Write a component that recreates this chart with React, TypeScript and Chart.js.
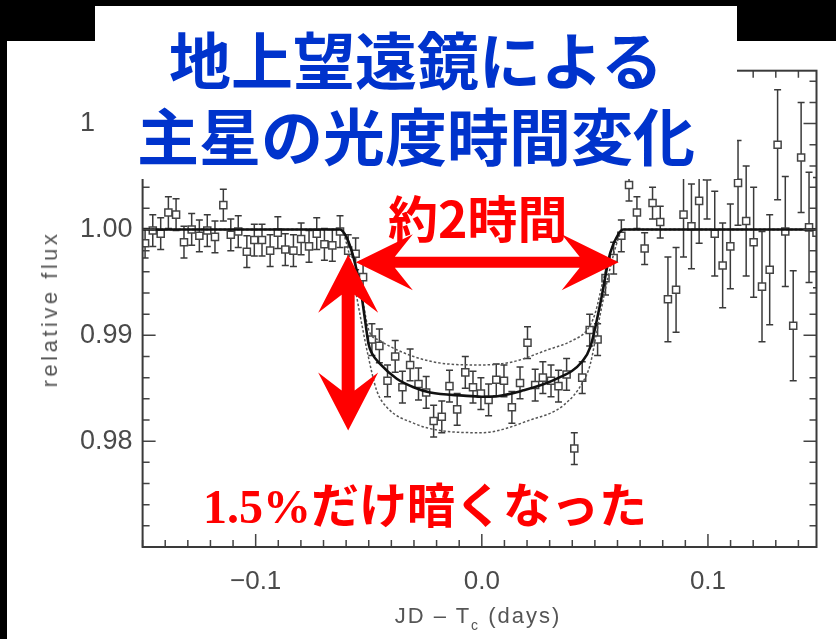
import React, { useEffect, useRef } from 'react';
import { Chart, registerables } from 'chart.js';

Chart.register(...registerables);

// ---- Observed light curve (JD - Tc in days, relative flux, 1-sigma error) ----
const obsTime = [
  -0.1489, -0.1455, -0.1420, -0.1386, -0.1352, -0.1317, -0.1283, -0.1249, -0.1214, -0.1180,
  -0.1143, -0.1110, -0.1077, -0.1039, -0.1006, -0.0972, -0.0936, -0.0902, -0.0869, -0.0833,
  -0.0799, -0.0764, -0.0730, -0.0696, -0.0661, -0.0627, -0.0591, -0.0558, -0.0525, -0.0486,
  -0.0453, -0.0417, -0.0383, -0.0351, -0.0317, -0.0280, -0.0246, -0.0213, -0.0177, -0.0143,
  -0.0109, -0.0073, -0.0039, -0.0004, 0.0030, 0.0064, 0.0098, 0.0133, 0.0169, 0.0202,
  0.0236, 0.0270, 0.0306, 0.0339, 0.0375, 0.0409, 0.0444, 0.0477, 0.0512, 0.0547,
  0.0583, 0.0617, 0.0651, 0.0686, 0.0720, 0.0755, 0.0789, 0.0823, 0.0859, 0.0892,
  0.0927, 0.0961, 0.0996, 0.1030, 0.1065, 0.1099, 0.1133, 0.1169, 0.1202, 0.1239,
  0.1273, 0.1308, 0.1342, 0.1377, 0.1412, 0.1447, 0.1480,
];
const obsFlux = [
  0.9987, 0.9999, 0.9996, 1.0016, 1.0014, 0.9988, 1.0000, 0.9994, 0.9999, 0.9993,
  1.0023, 0.9995, 0.9998, 0.9979, 0.9990, 0.9990, 0.9980, 0.9997, 0.9981, 0.9980,
  0.9991, 0.9984, 0.9996, 0.9986, 0.9985, 0.9998, 0.9980, 0.9977, 0.9955, 0.9896,
  0.9890, 0.9857, 0.9880, 0.9851, 0.9872, 0.9854, 0.9846, 0.9819, 0.9823, 0.9852,
  0.9830, 0.9865, 0.9851, 0.9845, 0.9839, 0.9858, 0.9857, 0.9832, 0.9855, 0.9893,
  0.9853, 0.9860, 0.9857, 0.9852, 0.9863, 0.9793, 0.9860, 0.9905, 0.9896, 0.9954,
  0.9973, 0.9994, 1.0042, 1.0016, 0.9982, 1.0025, 1.0007, 0.9934, 0.9943, 1.0014,
  1.0003, 1.0027, 1.0050, 0.9996, 0.9966, 0.9984, 1.0044, 1.0008, 0.9988, 0.9946,
  0.9962, 1.0080, 0.9998, 0.9909, 1.0068, 1.0002, 0.9997,
];
const obsErr = [
  0.0014, 0.0015, 0.0015, 0.0015, 0.0015, 0.0015, 0.0015, 0.0015, 0.0015, 0.0015,
  0.0015, 0.0015, 0.0015, 0.0015, 0.0015, 0.0015, 0.0015, 0.0015, 0.0015, 0.0015,
  0.0015, 0.0015, 0.0015, 0.0015, 0.0015, 0.0015, 0.0015, 0.0015, 0.0015, 0.0015,
  0.0016, 0.0015, 0.0015, 0.0015, 0.0015, 0.0015, 0.0015, 0.0015, 0.0015, 0.0015,
  0.0015, 0.0015, 0.0015, 0.0015, 0.0015, 0.0015, 0.0015, 0.0015, 0.0015, 0.0015,
  0.0015, 0.0015, 0.0015, 0.0015, 0.0015, 0.0015, 0.0015, 0.0015, 0.0015, 0.0016,
  0.0015, 0.0015, 0.0015, 0.0015, 0.0015, 0.0015, 0.0015, 0.0040, 0.0040, 0.0040,
  0.0040, 0.0040, 0.0040, 0.0040, 0.0040, 0.0040, 0.0040, 0.0052, 0.0052, 0.0052,
  0.0052, 0.0052, 0.0052, 0.0052, 0.0052, 0.0052, 0.0052,
];

// ---- Best-fit transit model (solid) ----
const modelTime = [
  -0.150, -0.0627, -0.0597, -0.0568, -0.0538, -0.0516, -0.0501, -0.0486, -0.0450, -0.0376,
  -0.0302, -0.0228, -0.0081, 0.0000, 0.0037, 0.0185, 0.0332, 0.0443, 0.0480, 0.0524,
  0.0568, 0.0605, 0.0626, 0.148,
];
const modelFlux = [
  1.0000, 1.0000, 0.9992, 0.9974, 0.9946, 0.9914, 0.9892, 0.9883, 0.9873, 0.9859,
  0.9851, 0.9846, 0.9843, 0.9842, 0.9842, 0.9848, 0.9859, 0.9875, 0.9889, 0.9930,
  0.9978, 0.9996, 1.0000, 1.0000,
];

// ---- Alternative models (dotted) ----
const upperTime = [
  -0.150, -0.0627, -0.0568, -0.0530, -0.0500, -0.0450, -0.0302, -0.0153, 0.0000, 0.0138,
  0.0287, 0.0400, 0.0465, 0.0500, 0.0540, 0.0580, 0.0626, 0.148,
];
const upperFlux = [
  1.0000, 1.0000, 0.9975, 0.9937, 0.9905, 0.9895, 0.9880, 0.9873, 0.9872, 0.9875,
  0.9886, 0.9895, 0.9905, 0.9920, 0.9955, 0.9985, 1.0000, 1.0000,
];
const lowerTime = [
  -0.150, -0.0627, -0.0590, -0.0553, -0.0505, -0.0465, -0.0420, -0.0302, -0.0184, 0.0000,
  0.0214, 0.0362, 0.0450, 0.0480, 0.0510, 0.0539, 0.0576, 0.0610, 0.0626, 0.148,
];
const lowerFlux = [
  1.0000, 1.0000, 0.9980, 0.9936, 0.9883, 0.9848, 0.9832, 0.9817, 0.9810, 0.9808,
  0.9820, 0.9834, 0.9857, 0.9873, 0.9905, 0.9936, 0.9971, 0.9995, 1.0000, 1.0000,
];

// ---- Axes ----
const xTickValues = [-0.1, 0.0, 0.1];
const xTickLabels = ['\u22120.1', '0.0', '0.1'];
const yTickValues = [0.98, 0.99, 1.0, 1.01];
const yTickLabels = ['0.98', '0.99', '1.00', '1.01'];
const X_MIN = -0.15;
const X_MAX = 0.148;
const Y_MIN = 0.970;
const Y_MAX = 1.015;
const X_MINOR_STEP = 0.01;
const Y_MINOR_STEP = 0.002;

// ---- Annotation arrows (data units) ----
const durationArrow = { x1: -0.0557, x2: 0.0605, y: 0.9969 };
const depthArrow = { x: -0.0591, y1: 0.9976, y2: 0.9810 };

const TICK_FONT = "'Liberation Sans', Arial, sans-serif";

function drawDoubleArrow(
  ctx: CanvasRenderingContext2D,
  x1: number, y1: number, x2: number, y2: number,
  shaft: number, headLen: number, headHalf: number, notch: number,
) {
  const dx = x2 - x1;
  const dy = y2 - y1;
  const L = Math.hypot(dx, dy);
  const ux = dx / L, uy = dy / L, nx = -uy, ny = ux;
  const P = (a: number, b: number) => [x1 + ux * a + nx * b, y1 + uy * a + ny * b];
  const pts = [
    P(0, 0), P(headLen, headHalf), P(notch, shaft / 2), P(L - notch, shaft / 2),
    P(L - headLen, headHalf), P(L, 0), P(L - headLen, -headHalf), P(L - notch, -shaft / 2),
    P(notch, -shaft / 2), P(headLen, -headHalf),
  ];
  ctx.beginPath();
  pts.forEach(([x, y], i) => (i ? ctx.lineTo(x, y) : ctx.moveTo(x, y)));
  ctx.closePath();
  ctx.fill();
}

const decorPlugin = {
  id: 'decor',
  beforeDatasetsDraw(chart: any) {
    const { ctx, chartArea: a, scales } = chart;
    const xs = scales.x, ys = scales.y;
    ctx.save();
    ctx.beginPath();
    ctx.rect(a.left, a.top, a.right - a.left, a.bottom - a.top);
    ctx.clip();
    ctx.strokeStyle = '#3a3a3a';
    ctx.lineWidth = 1.5;
    for (let i = 0; i < obsTime.length; i++) {
      const px = xs.getPixelForValue(obsTime[i]);
      const top = ys.getPixelForValue(obsFlux[i] + obsErr[i]);
      const bot = ys.getPixelForValue(obsFlux[i] - obsErr[i]);
      ctx.beginPath();
      ctx.moveTo(px, top);
      ctx.lineTo(px, bot);
      ctx.moveTo(px - 3.5, top);
      ctx.lineTo(px + 3.5, top);
      ctx.moveTo(px - 3.5, bot);
      ctx.lineTo(px + 3.5, bot);
      ctx.stroke();
    }
    ctx.restore();
  },
  afterDatasetsDraw(chart: any) {
    const { ctx, chartArea: a, scales } = chart;
    const xs = scales.x, ys = scales.y;
    ctx.save();
    ctx.strokeStyle = '#444';
    ctx.lineWidth = 1.5;
    // x ticks (bottom & top, inward)
    for (let k = Math.ceil(X_MIN / X_MINOR_STEP); k * X_MINOR_STEP <= X_MAX + 1e-9; k++) {
      const v = k * X_MINOR_STEP;
      const major = xTickValues.some((t) => Math.abs(t - v) < 1e-9);
      const len = major ? 13 : 7;
      const px = xs.getPixelForValue(v);
      ctx.beginPath();
      ctx.moveTo(px, a.bottom);
      ctx.lineTo(px, a.bottom - len);
      ctx.moveTo(px, a.top);
      ctx.lineTo(px, a.top + len);
      ctx.stroke();
    }
    // y ticks (left & right, inward)
    for (let k = Math.ceil(Y_MIN / Y_MINOR_STEP - 1e-6); k * Y_MINOR_STEP <= Y_MAX + 1e-9; k++) {
      const v = k * Y_MINOR_STEP;
      const major = yTickValues.some((t) => Math.abs(t - v) < 1e-9);
      const len = major ? 13 : 7;
      const py = ys.getPixelForValue(v);
      ctx.beginPath();
      ctx.moveTo(a.left, py);
      ctx.lineTo(a.left + len, py);
      ctx.moveTo(a.right, py);
      ctx.lineTo(a.right - len, py);
      ctx.stroke();
    }
    ctx.lineWidth = 2;
    ctx.strokeStyle = '#3a3a3a';
    ctx.strokeRect(a.left, a.top, a.right - a.left, a.bottom - a.top);
    ctx.restore();
  },
  afterDraw(chart: any) {
    const { ctx, scales } = chart;
    const xs = scales.x, ys = scales.y;
    ctx.save();
    ctx.fillStyle = '#ff0000';
    const hy = ys.getPixelForValue(durationArrow.y);
    drawDoubleArrow(ctx, xs.getPixelForValue(durationArrow.x1), hy,
      xs.getPixelForValue(durationArrow.x2), hy, 11, 57, 28, 39);
    const vx = xs.getPixelForValue(depthArrow.x);
    drawDoubleArrow(ctx, vx, ys.getPixelForValue(depthArrow.y1),
      vx, ys.getPixelForValue(depthArrow.y2), 13, 58, 30, 40);
    ctx.restore();
  },
};

export default function App() {
  const canvasRef = useRef<HTMLCanvasElement | null>(null);

  useEffect(() => {
    const canvas = canvasRef.current;
    if (!canvas) return;
    const toPts = (xs: number[], ys: number[]) => xs.map((x, i) => ({ x, y: ys[i] }));
    const chart = new Chart(canvas, {
      type: 'line',
      data: {
        datasets: [
          {
            label: 'model',
            data: toPts(modelTime, modelFlux),
            borderColor: '#111',
            borderWidth: 2.6,
            pointRadius: 0,
            cubicInterpolationMode: 'monotone',
            order: 0,
          },
          {
            label: 'upper',
            data: toPts(upperTime, upperFlux),
            borderColor: '#555',
            borderWidth: 1.5,
            borderDash: [2.5, 2],
            pointRadius: 0,
            cubicInterpolationMode: 'monotone',
            order: 1,
          },
          {
            label: 'lower',
            data: toPts(lowerTime, lowerFlux),
            borderColor: '#555',
            borderWidth: 1.5,
            borderDash: [2.5, 2],
            pointRadius: 0,
            cubicInterpolationMode: 'monotone',
            order: 2,
          },
          {
            label: 'observed',
            data: toPts(obsTime, obsFlux),
            showLine: false,
            pointStyle: 'rect',
            pointRadius: 5,
            borderColor: '#444',
            backgroundColor: '#ffffff',
            borderWidth: 1.5,
            order: 3,
          },
        ],
      } as any,
      options: {
        animation: false,
        responsive: false,
        maintainAspectRatio: false,
        events: [],
        layout: { padding: { left: 0, right: 19.5, top: 70.7, bottom: 0 } },
        plugins: { legend: { display: false }, tooltip: { enabled: false } },
        scales: {
          x: {
            type: 'linear',
            min: X_MIN,
            max: X_MAX,
            grid: { display: false, drawTicks: false },
            border: { display: false },
            afterBuildTicks: (s: any) => { s.ticks = xTickValues.map((v) => ({ value: v })); },
            afterFit: (s: any) => { s.height = 92; },
            ticks: {
              padding: 19,
              color: '#4a4a4a',
              font: { family: TICK_FONT, size: 26 },
              maxRotation: 0,
              autoSkip: false,
              callback: (_v: any, i: number) => xTickLabels[i],
            },
          },
          y: {
            type: 'linear',
            min: Y_MIN,
            max: Y_MAX,
            grid: { display: false, drawTicks: false },
            border: { display: false },
            afterBuildTicks: (s: any) => { s.ticks = yTickValues.map((v) => ({ value: v })); },
            afterFit: (s: any) => { s.width = 142.6; },
            ticks: {
              padding: 10,
              color: '#4a4a4a',
              font: { family: TICK_FONT, size: 27 },
              autoSkip: false,
              callback: (_v: any, i: number) => yTickLabels[i],
            },
          },
        },
      } as any,
      plugins: [decorPlugin],
    });
    return () => chart.destroy();
  }, []);

  const abs: React.CSSProperties = { position: 'absolute', whiteSpace: 'nowrap', margin: 0 };
  const jp = "'Noto Sans CJK JP', 'Noto Sans CJK SC', sans-serif";

  return (
    <div style={{ position: 'absolute', left: 0, top: 0, width: 836, height: 639, background: '#000', overflow: 'hidden' }}>
      <div style={{ ...abs, left: 7, top: 41, width: 829, height: 598, background: '#fff' }} />
      <canvas ref={canvasRef} width={836} height={639} style={{ position: 'absolute', left: 0, top: 0, width: 836, height: 639 }} />

      {/* axis titles */}
      <div style={{ ...abs, left: 50, top: 309, transform: 'translate(-50%, -50%) rotate(-90deg)', fontFamily: TICK_FONT, fontSize: 22, letterSpacing: '3.5px', color: '#555' }}>
        relative flux
      </div>
      <div style={{ ...abs, left: 478, top: 603, transform: 'translateX(-50%)', fontFamily: TICK_FONT, fontSize: 22, letterSpacing: '2px', color: '#555' }}>
        JD &ndash; T<sub style={{ fontSize: 14, verticalAlign: -7 }}>c</sub> (days)
      </div>

      {/* title box */}
      <div style={{ ...abs, left: 95, top: 6, width: 642, height: 173, background: '#fff' }}>
        <div style={{ ...abs, left: 0, width: 642, top: 21, textAlign: 'center', fontFamily: jp, fontWeight: 700, fontSize: 62, lineHeight: '62px', color: '#0033cc' }}>
          地上望遠鏡による
        </div>
        <div style={{ ...abs, left: 0, width: 642, top: 97, textAlign: 'center', fontFamily: jp, fontWeight: 700, fontSize: 62, lineHeight: '62px', color: '#0033cc' }}>
          主星の光度時間変化
        </div>
      </div>

      {/* red annotations */}
      <div style={{ ...abs, left: 388, top: 191, fontFamily: jp, fontWeight: 700, fontSize: 50, lineHeight: '50px', color: '#ff0000' }}>
        約2時間
      </div>
      <div style={{ ...abs, left: 203, top: 478, fontWeight: 700, fontSize: 48, lineHeight: '48px', color: '#ff0000' }}>
        <span style={{ fontFamily: "'Liberation Serif', serif" }}>1.5%</span>
        <span style={{ fontFamily: jp }}>だけ暗くなった</span>
      </div>
    </div>
  );
}
